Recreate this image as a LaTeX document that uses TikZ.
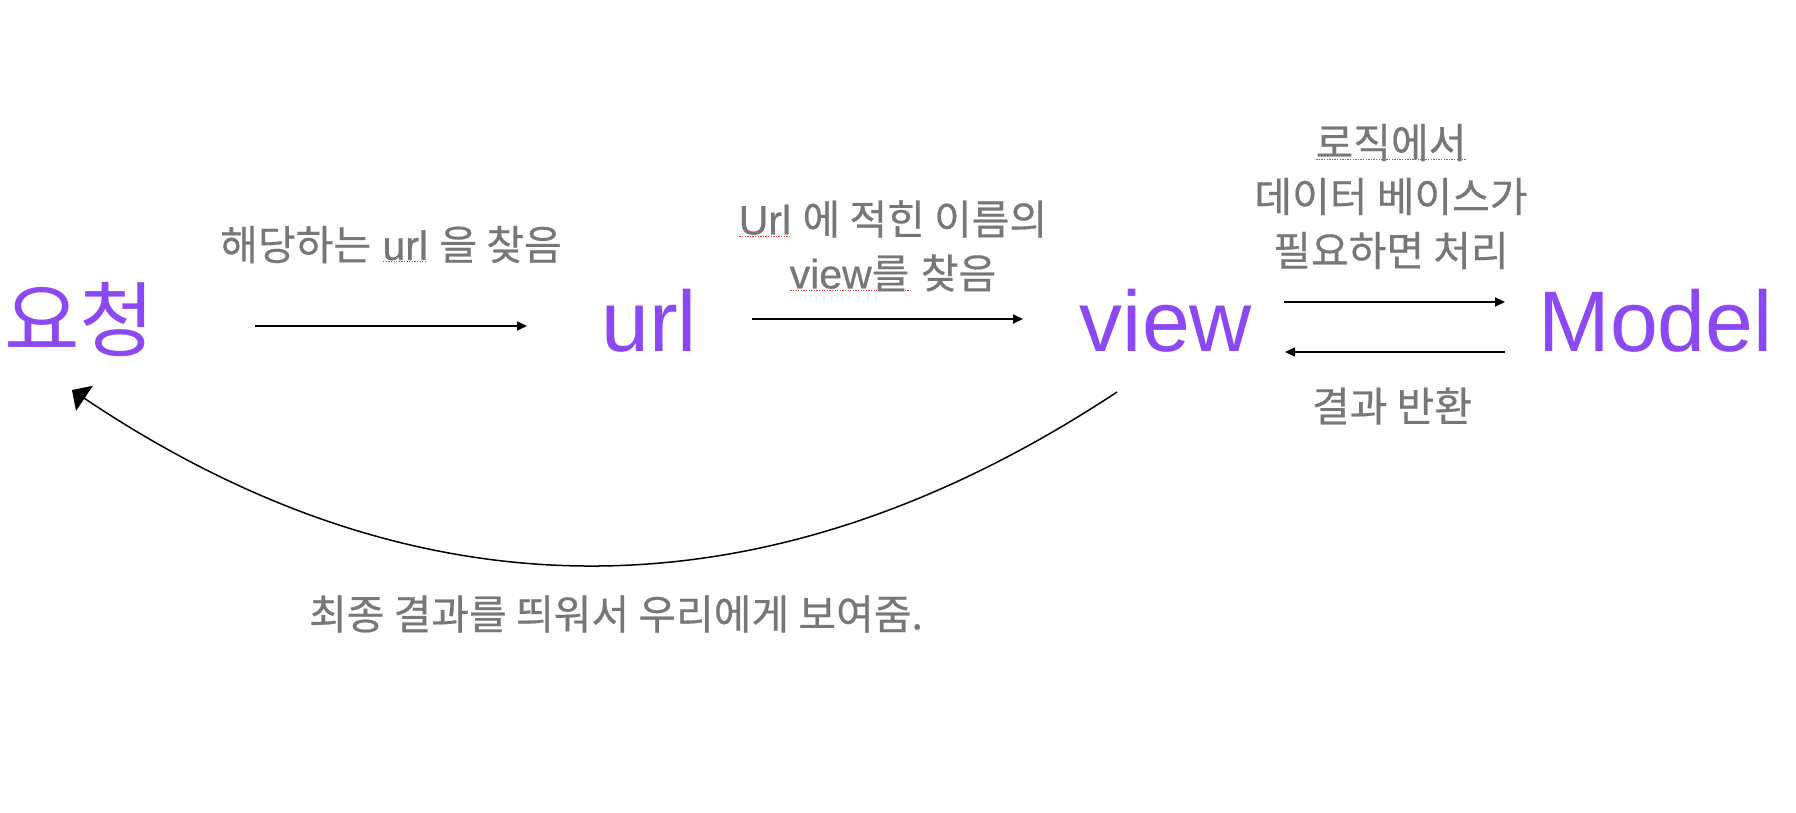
\documentclass[tikz,border=0pt]{standalone}
\usepackage{fontspec}
\setmainfont{Liberation Sans}
\newfontfamily\kr{Noto Sans CJK KR}
\newfontfamily\krm[FakeBold=0.5]{Noto Sans CJK KR}
\newfontfamily\lam[FakeBold=0.5]{Liberation Sans}
\usetikzlibrary{arrows.meta}
\definecolor{vio}{RGB}{140,72,245}
\definecolor{txtgray}{HTML}{777777}
\definecolor{spell}{RGB}{232,60,50}
\newcommand\redul[1]{\setbox0\hbox{#1}\rlap{\raisebox{-2.5pt}{\color{spell}\leaders\hbox to 2.6pt{\hss\rule{1.3pt}{1.3pt}\hss}\hskip\wd0}}\box0\relax}
\begin{document}
\begin{tikzpicture}[x=1pt,y=-1pt,
  big/.style={text=vio, inner sep=0pt, font=\fontsize{86}{100}\selectfont},
  bigkr/.style={text=vio, inner sep=0pt, font=\kr\fontsize{82}{100}\selectfont},
  lab/.style={text=txtgray, inner sep=0pt, align=center, font=\lam\fontsize{41}{54}\selectfont},
  labkr/.style={text=txtgray, inner sep=0pt, align=center, font=\krm\fontsize{41}{54}\selectfont},
  conn/.style={line width=1.7pt, -{Triangle[length=10pt,width=9pt]}},
  back/.style={line width=1.5pt, -{Triangle[length=15pt,width=30pt]}}]
\useasboundingbox (0,0) rectangle (1796,812);
\fill[white] (0,0) rectangle (1796,812);
% main nodes
\node[bigkr, anchor=center] (req) at (80,320) {요청};
\node[big, anchor=base] (url) at (649,351) {url};
\node[big, anchor=base] (view) at (1166,351) {view};
\node[big, anchor=base] (model) at (1655.5,351) {Model};
% labels
\node[lab] (l1) at (391,244.5) {{\krm 해당하는} \redul{url} {\krm 을 찾음}};
\node[lab] (l2) at (893,246) {\redul{Url} {\krm 에 적힌 이름의}\\\redul{view{\krm 를}} {\krm 찾음}};
\node[labkr] (l3) at (1391,196.5) {\redul{로직에서}\\데이터 베이스가\\필요하면 처리};
\node[labkr] (l4) at (1392,406) {결과 반환};
\node[labkr] (l5) at (616,614) {최종 결과를 띄워서 우리에게 보여줌.};
% connector ends
\coordinate (a1s) at (255,326); \coordinate (a1e) at (527,326);
\coordinate (a2s) at (752,319); \coordinate (a2e) at (1023,319);
\coordinate (a3s) at (1284,302); \coordinate (a3e) at (1505,302);
\coordinate (a4s) at (1505,352); \coordinate (a4e) at (1285,352);
\coordinate (cs) at (1117,392); \coordinate (ce) at (72,390);
\draw[conn] (a1s) -- (a1e);
\draw[conn] (a2s) -- (a2e);
\draw[conn] (a3s) -- (a3e);
\draw[conn] (a4s) -- (a4e);
\draw[back] (cs) .. controls (767,623) and (419,623) .. (ce);
\end{tikzpicture}
\end{document}
